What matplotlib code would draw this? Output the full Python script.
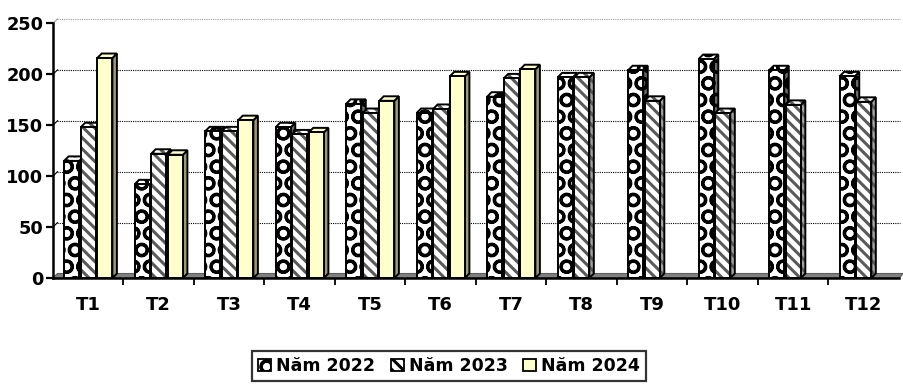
import matplotlib
matplotlib.use("Agg")
import matplotlib.pyplot as plt
from matplotlib.patches import Polygon, Patch
import numpy as np

# Monthly values per year (T = tháng)
months = ["T1", "T2", "T3", "T4", "T5", "T6", "T7", "T8", "T9", "T10", "T11", "T12"]
y2022 = [115, 92, 144, 148, 171, 162, 178, 197, 204, 215, 204, 198]
y2023 = [148, 122, 144, 141, 162, 166, 196, 197, 174, 162, 170, 173]
y2024 = [216, 121, 155, 143, 174, 198, 205]
series_names = ["Năm 2022", "Năm 2023", "Năm 2024"]
yticks = [0, 50, 100, 150, 200, 250]

plt.rcParams['font.family'] = ['DejaVu Sans']
plt.rcParams['font.weight'] = 'bold'
plt.rcParams['hatch.linewidth'] = 2.2

W, H = 904, 389
fig = plt.figure(figsize=(W / 100, H / 100), dpi=100)
ax = fig.add_axes([53 / W, 111 / H, 846 / W, 254.6 / H])
ax.set_xlim(-0.5, len(months) - 0.5)
ax.set_ylim(0, 250)

# depth of the 3-D effect, converted from pixels to data units
p0 = ax.transData.transform((0, 0))
p1 = ax.transData.transform((1, 1))
sx, sy = p1 - p0
dx, dy = 4.5 / sx, 4.5 / sy

x0, x1 = -0.5, len(months) - 0.5

# floor
ax.add_patch(Polygon([(x0, 0), (x1, 0), (x1 + dx, dy), (x0 + dx, dy)],
                     closed=True, facecolor='#808080', edgecolor='#5e5e5e',
                     lw=0.8, zorder=1, clip_on=False))

# back-wall gridlines
for v in yticks[1:]:
    col = '#9a9a9a' if v == 250 else 'black'
    ax.plot([x0 + dx, x1 + dx * 0.3], [v + dy, v + dy], ls=(0, (1, 1)),
            color=col, lw=0.8, zorder=0.5, clip_on=False)
    ax.plot([x0, x0 + dx], [v, v + dy], color=col, lw=0.8, zorder=0.5,
            clip_on=False)

styles = [
    dict(face='white', hatch='O', hcol='black', side='#6a6a6a', top='white'),
    dict(face='white', hatch='\\\\\\', hcol='#5a5a5a', side='#a0a0a0', top='white'),
    dict(face='#FFFFCC', hatch=None, hcol='black', side='#9c9a74', top='#FFFFCC'),
]
values = [y2022, y2023, y2024]
offsets = [-0.235, 0.0, 0.235]
w = 0.215


def face(verts, fc, st, z):
    # filled, hatched face followed by a black outline
    ax.add_patch(Polygon(verts, closed=True, facecolor=fc, hatch=st['hatch'],
                         edgecolor=st['hcol'], lw=0, zorder=z))
    ax.add_patch(Polygon(verts, closed=True, facecolor='none',
                         edgecolor='black', lw=1.4, zorder=z))


for i, (vals, st, off) in enumerate(zip(values, styles, offsets)):
    xs = np.arange(len(vals)) + off
    z = 3 + i
    ax.bar(xs, vals, width=w, color=st['face'], hatch=st['hatch'],
           edgecolor=st['hcol'], lw=0, zorder=z + 0.2)
    ax.bar(xs, vals, width=w, color='none', edgecolor='black', lw=1.4,
           zorder=z + 0.3)
    for x, h in zip(xs, vals):
        r = x + w / 2
        l = x - w / 2
        face([(r, 0), (r, h), (r + dx, h + dy), (r + dx, dy)], st['side'], st, z)
        face([(l, h), (r, h), (r + dx, h + dy), (l + dx, h + dy)], st['top'], st, z)

for s in ['top', 'right']:
    ax.spines[s].set_visible(False)
ax.spines['left'].set_linewidth(1.8)
ax.spines['bottom'].set_linewidth(1.8)
ax.spines['left'].set_zorder(10)
ax.spines['bottom'].set_zorder(10)

ax.set_yticks(yticks)
ax.set_yticklabels([str(v) for v in yticks], fontsize=12.8, fontweight='bold')
ax.tick_params(axis='y', length=5, width=1.6, pad=2)

ax.set_xticks(np.arange(0.5, len(months) - 0.5, 1.0))
ax.set_xticklabels([])
ax.tick_params(axis='x', which='major', length=5, width=1.3, direction='out')
ax.set_xticks(np.arange(len(months)), minor=True)
ax.set_xticklabels(months, minor=True, fontsize=13, fontweight='bold')
ax.tick_params(axis='x', which='minor', length=0, pad=13)

handles = [Patch(facecolor=st['face'], hatch=st['hatch'], edgecolor='black', lw=1.3)
           for st in styles]
leg = fig.legend(handles, series_names, loc='upper center',
                 bbox_to_anchor=(449 / W, (H - 351) / H), bbox_transform=fig.transFigure,
                 ncol=3, frameon=True, fancybox=False, edgecolor='black',
                 borderaxespad=0, handlelength=0.75, handleheight=0.75,
                 handletextpad=0.3, columnspacing=0.9, borderpad=0.35,
                 prop=dict(weight='bold', size=12.5))
leg.get_frame().set_linewidth(1.6)

fig.savefig("out.png", dpi=100)
